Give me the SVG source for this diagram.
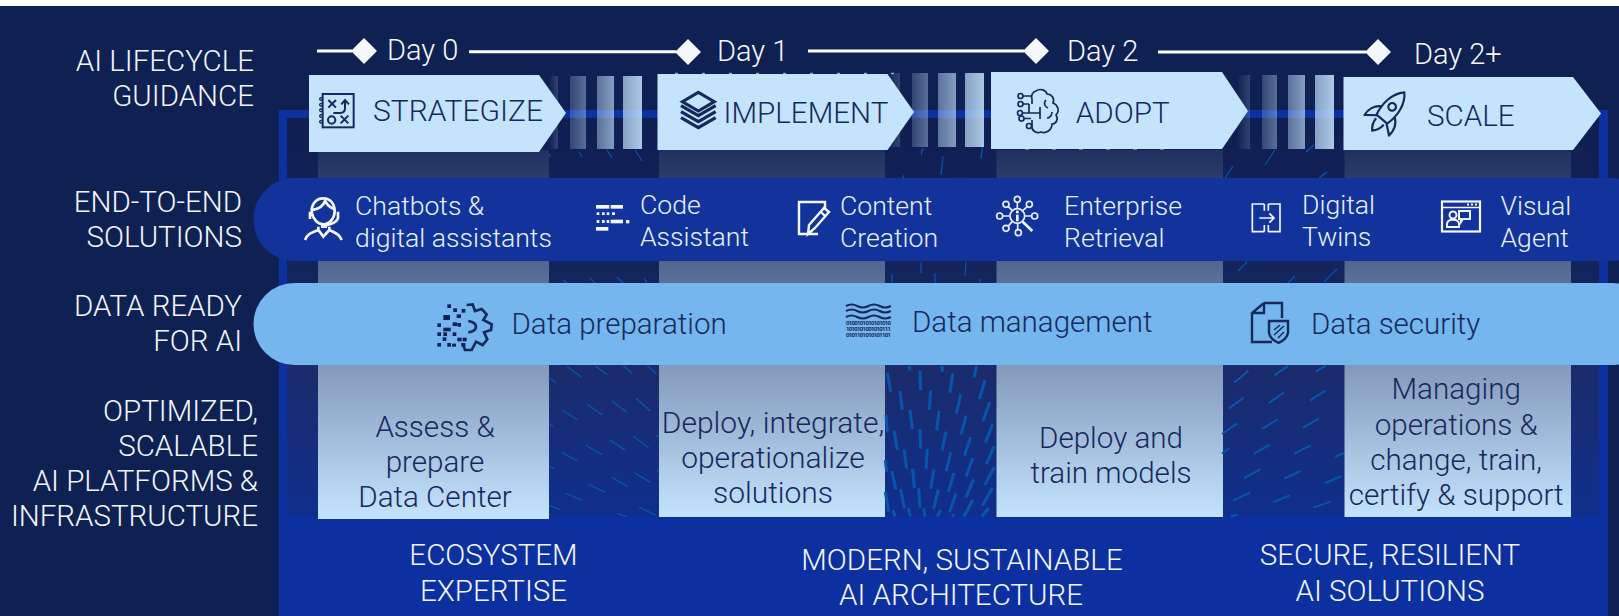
<svg xmlns="http://www.w3.org/2000/svg" width="1619" height="616" viewBox="0 0 1619 616">
<style>
text{font-family:Roboto,"Liberation Sans",sans-serif;font-weight:300}
.lab{font-size:29.5px;fill:#f2f6fc;text-anchor:end}
.chev{fill:#c4e4fe}
.ct{font-size:29.600px;fill:#16295c}
.day{font-size:29px;fill:#f6f8fc}
.sol{font-size:26.600px;fill:#e8eff9}
.dat{font-size:29.500px;fill:#16295c}
.col{fill:url(#colg)}
.ctr{font-size:29.600px;fill:#16295c;text-anchor:middle}
.bot{font-size:29.500px;fill:#f2f6fc;text-anchor:middle}
.dash{fill:none;stroke:#0a55ac;stroke-width:4;stroke-linecap:butt}
.il{fill:none;stroke:#f4f7fc;stroke-width:8}
.dl{fill:none;stroke:#16295c;stroke-width:6}
.wf{fill:#f4f7fc}
.df{fill:#0f2052}
.tl{fill:none;stroke:#fff;stroke-width:3}
</style>
<defs>
<linearGradient id="inner" gradientUnits="userSpaceOnUse" x1="0" y1="118" x2="0" y2="517"><stop offset="0" stop-color="#0f1f52"/><stop offset=".4" stop-color="#14245c"/><stop offset=".62" stop-color="#1b2b6b"/><stop offset="1" stop-color="#0f2f8c"/></linearGradient>
<linearGradient id="colg" gradientUnits="userSpaceOnUse" x1="0" y1="150" x2="0" y2="519"><stop offset="0" stop-color="#1f305f"/><stop offset=".325" stop-color="#556a92"/><stop offset=".583" stop-color="#8399bb"/><stop offset="1" stop-color="#c4e4fe"/></linearGradient>
<linearGradient id="s1"><stop offset="0" stop-color="#c4e4fe" stop-opacity="0"/><stop offset="1" stop-color="#c4e4fe" stop-opacity=".18"/></linearGradient>
<linearGradient id="s2"><stop offset="0" stop-color="#c4e4fe" stop-opacity=".2"/><stop offset="1" stop-color="#c4e4fe" stop-opacity=".4"/></linearGradient>
<linearGradient id="s3"><stop offset="0" stop-color="#c4e4fe" stop-opacity=".42"/><stop offset="1" stop-color="#c4e4fe" stop-opacity=".64"/></linearGradient>
<linearGradient id="s4"><stop offset="0" stop-color="#c4e4fe" stop-opacity=".66"/><stop offset="1" stop-color="#c4e4fe" stop-opacity=".86"/></linearGradient>
</defs>
<rect width="1619" height="616" fill="#0f2052"/>
<rect width="1619" height="6" fill="#fff"/>
<g id="frame">
<rect x="279" y="110" width="1329" height="506" fill="#0d30a0"/>
<rect x="287" y="118" width="1312" height="399" fill="url(#inner)"/>
</g>
<g id="columns">
<rect class="col" x="318" y="150" width="231" height="369"/>
<rect class="col" x="659" y="150" width="226" height="367"/>
<rect class="col" x="996.500" y="150" width="226.500" height="367"/>
<rect class="col" x="1344.500" y="150" width="226.500" height="367"/>
</g>
<g id="pattern">
<g transform="translate(540 360) scale(.33333)"><path class="dash" d="M82 20L125 52M165 17L202 44M250 17L277 40M322 17L350 41M27 52L48 69M67 150L113 180M142 133L187 165M215 122L260 157M288 115L332 154M27 192L39 200M65 277L113 303M137 255L185 284M208 239L256 271M280 229L326 263M27 318L44 327M75 399L127 421M145 373L196 397M215 352L264 380M283 338L331 367M27 436L59 449M231 461L262 470M297 441L347 466M349 225L357 231M350 328L357 338"/></g>
<g transform="translate(880 360) scale(.33333)"><path class="dash" style="stroke-width:9" d="M88 17L90 32M186 17L187 35M290 17L282 52M22 38L32 95M120 32L122 90M218 40L210 98M315 60L298 117M60 93L67 150M152 92L148 150M242 103L229 160M329 127L309 183M90 150L97 207M177 153L170 211M258 167L243 224M338 193L316 248M18 165L22 215M42 212L52 270M120 208L122 266M198 215L186 272M272 231L253 287M343 258L319 312M72 268L80 326M142 267L138 326M213 277L198 333M278 295L258 350M343 322L314 375M35 333L48 389M98 326L103 384M162 328L152 386M222 339L205 395M281 358L257 413M337 384L307 437M62 387L73 445M116 385L120 443M175 389L161 446M228 401L208 457M278 420L252 470M326 445L305 470M16 396L26 455M38 451L46 470M85 445L91 470M131 445L135 470M182 450L172 470M222 462L218 470M16 300L20 335"/></g>
<g transform="translate(1215 360) scale(.33333)"><path class="dash" style="stroke-width:6" d="M57 68L100 32M178 46L220 17M302 35L332 17M41 146L86 113M162 129L207 97M285 121L332 92M21 222L67 190M141 207L188 178M264 203L311 176M21 280L44 264M116 282L164 254M238 281L287 256M361 291L386 279M87 354L137 328M207 356L257 333M330 369L380 348M54 422L104 398M173 428L224 406M295 443L347 425M47 470L69 463"/></g>
<path class="dash" style="stroke-width:1.200" d="M549 154L551 157M579 152L582 157M607 150L612 158M635 150L642 161M563 280L567 283M590 278L595 283M617 277L623 283M644 278L647 283M923 148L921 155M943 156L941 175M983 142L981 159M904 175L903 178M960 177L960 178M921 262L921 273M966 262L965 276M892 274L892 283M935 273L935 283M980 279L980 283"/>
<path class="dash" style="stroke-width:1.200" d="M1225 178L1233 166M1265 165L1275 150M1319 178L1327 172M1306 152L1314 145M1238 271L1247 262M1288 283L1295 276M1324 282L1337 269"/>
</g>
<g id="connectors">
<path class="tl" d="M317 51H352M469 51.700H676M808 51H1024M1158 52H1366"/>
</g>
<g id="day0"><polygon class="wf" points="364,38 377,51 364,64 351,51"/><text class="day" x="387" y="60">Day 0</text></g>
<g id="day1"><polygon class="wf" points="688,39 701,52 688,65 675,52"/><text class="day" x="717" y="61">Day 1</text></g>
<g id="day2"><polygon class="wf" points="1036,38 1049,51 1036,64 1023,51"/><text class="day" x="1067" y="61">Day 2</text></g>
<g id="day2plus"><polygon class="wf" points="1378,39 1391,52 1378,65 1365,52"/><text class="day" x="1414" y="64">Day 2+</text></g>
<g id="stripes">
<g><rect x="549" y="76" width="9" height="73" fill="url(#s1)"/><rect x="570" y="76" width="16" height="73" fill="url(#s2)"/><rect x="597" y="76" width="17" height="73" fill="url(#s3)"/><rect x="623" y="76" width="19" height="73" fill="url(#s4)"/></g>
<g><rect x="887" y="73" width="13" height="74" fill="url(#s1)"/><rect x="912" y="73" width="16" height="74" fill="url(#s2)"/><rect x="938" y="73" width="18" height="74" fill="url(#s3)"/><rect x="965" y="73" width="19" height="74" fill="url(#s4)"/></g>
<g><rect x="1237" y="75" width="13" height="74" fill="url(#s1)"/><rect x="1262" y="75" width="15" height="74" fill="url(#s2)"/><rect x="1288" y="75" width="17" height="74" fill="url(#s3)"/><rect x="1315" y="75" width="19" height="74" fill="url(#s4)"/></g>
</g>
<g id="strategize">
<polygon class="chev" points="309,75 539,75 566,113 539,152 309,152"/>
<g transform="translate(300 85) scale(.33333)">
<rect x="68" y="27" width="93" height="100" class="dl"/>
<path class="dl" style="stroke-width:4;fill:#c4e4fe" d="M63 38a4 4 0 1 0 .1 0M63 55a4 4 0 1 0 .1 0M63 72a4 4 0 1 0 .1 0M63 89a4 4 0 1 0 .1 0M63 106a4 4 0 1 0 .1 0"/>
<path class="dl" d="M85 45L108 68M108 45L85 68M122 92L145 115M145 92L122 115M100 84H120Q135 84 135 70V48M124 58L135 45L147 58"/>
<circle cx="95" cy="105" r="11" class="dl"/>
</g>
<text class="ct" style="font-size:30px" x="373" y="120.700">STRATEGIZE</text>
</g>
<g id="implement">
<polygon class="chev" points="657.500,74 887.500,74 914,112 887.500,150 657.500,150"/>
<path d="M675 73.500H905" fill="none" stroke="#c4e4fe" stroke-width="1.500" stroke-dasharray="3 24" opacity=".7"/>
<g transform="translate(670 85) scale(.33333)">
<polygon points="85,22 133,50 85,78 37,50" fill="none" stroke="#16295c" stroke-width="9"/>
<path d="M33 62L85 92L137 62M33 80L85 110L137 80M33 98L85 128L137 98" fill="none" stroke="#16295c" stroke-width="10"/>
</g>
<text class="ct" x="723.500" y="122.700">IMPLEMENT</text>
</g>
<g id="adopt">
<polygon class="chev" points="991,72 1222,72 1248,111 1222,149 991,149"/>
<path d="M1025 149.200H1170" fill="none" stroke="#e6f2fd" stroke-width="1" stroke-dasharray="4 23" opacity=".6"/>
<g fill="none" stroke="#16295c" stroke-width="1.700">
<path d="M1036 91C1040 88 1046 90 1047 94C1052 94 1055 99 1053 103C1058 105 1060 111 1056 115C1059 119 1056 124 1052 124C1052 130 1046 134 1041 132C1037 134 1032 131 1032 127V120M1036 91C1032 92 1031 96 1032 99V104"/>
<path d="M1023 96H1032M1023 104H1029M1022 113H1040M1024 118.500H1031M1029 104V113M1040 107V119M1046 100C1043 103 1045 107 1048 108M1047 118C1050 118 1052 115 1052 112"/>
<circle cx="1020.500" cy="96" r="2.500"/><circle cx="1020.500" cy="104" r="2.500"/><circle cx="1020" cy="113" r="2.500"/><circle cx="1021.500" cy="118.500" r="2.500"/><circle cx="1029" cy="126" r="2.500"/>
</g>
<text class="ct" x="1075.800" y="123">ADOPT</text>
</g>
<g id="scale">
<polygon class="chev" points="1343.500,77 1573,77 1601,113.500 1573,150 1343.500,150"/>
<g transform="translate(1387 113) rotate(40)" fill="none" stroke="#16295c" stroke-width="2.200" stroke-linejoin="round">
<path d="M0 -27C-9 -18 -10 -4 -7 8H7C10 -4 9 -18 0 -27Z"/>
<circle cx="0" cy="-8" r="3.800"/>
<path d="M-8 -2C-15 2 -17 10 -16 16L-6 8M8 -2C15 2 17 10 16 16L6 8M-5 11C-5 17 -2 21 0 23C2 21 5 17 5 11"/>
</g>
<text class="ct" x="1427" y="126">SCALE</text>
</g>
<g id="pill-solutions"><rect x="253.500" y="178" width="1400" height="83" rx="41" ry="41" fill="#12339b"/></g>
<g id="pill-data"><rect x="253.500" y="283" width="1400" height="82" rx="41" ry="41" fill="#74b6ed"/></g>
<g id="sol-chatbots">
<g transform="translate(290 185) scale(.33333)">
<path class="il" d="M100 40C75 40 62 62 66 85C70 105 85 118 100 118C118 118 134 100 134 78C134 55 120 40 100 40ZM68 75C85 72 100 62 105 48C112 60 120 68 132 72M60 80V102M144 80V102M144 100Q138 116 104 122"/>
<path class="il" d="M45 165C52 145 68 142 85 135L100 155L118 135C132 142 148 145 155 165M85 135V125M118 135V125"/>
<rect x="93" y="116" width="18" height="13" class="wf"/>
</g>
<text class="sol" x="355" y="215">Chatbots &amp;</text><text class="sol" x="355" y="246.700">digital assistants</text>
</g>
<g id="sol-code">
<g transform="translate(290 185) scale(.33333)" class="wf">
<rect x="918" y="60" width="40" height="11"/><rect x="962" y="60" width="37" height="11"/>
<rect x="920" y="82" width="8" height="8"/><rect x="936" y="82" width="8" height="8"/><rect x="950" y="82" width="8" height="8"/><rect x="966" y="82" width="9" height="8"/>
<rect x="920" y="105" width="8" height="9"/><rect x="936" y="105" width="8" height="9"/><rect x="950" y="105" width="8" height="9"/><rect x="962" y="104" width="37" height="11"/><rect x="1008" y="105" width="10" height="10"/>
<rect x="918" y="126" width="37" height="11"/>
</g>
<text class="sol" x="640" y="214">Code</text><text class="sol" x="640" y="246">Assistant</text>
</g>
<g id="sol-content">
<path d="M825 209V202H799V234H818" fill="none" stroke="#f4f7fc" stroke-width="2.400"/>
<path d="M829 212L815 228L808 234L809 225L824 208ZM821 212L826 217" fill="#12339b" stroke="#f4f7fc" stroke-width="2.400"/>
<text class="sol" x="840" y="215">Content</text><text class="sol" x="840" y="246.700">Creation</text>
</g>
<g id="sol-enterprise">
<g transform="translate(1000 190) scale(.33333)">
<g fill="none" stroke="#e8eff9" stroke-width="5"><circle cx="52" cy="78" r="22"/><circle cx="52" cy="28" r="9"/><circle cx="88" cy="43" r="9"/><circle cx="104" cy="78" r="9"/><circle cx="18" cy="43" r="9"/><circle cx="-1" cy="78" r="9"/><circle cx="18" cy="115" r="9"/><circle cx="55" cy="128" r="9"/><path d="M52 37V56M82 50L68 62M95 78H74M25 50L37 62M8 78H30M25 108L37 94M53 100V119"/></g>
<path d="M68 95L97 123" stroke="#f4f7fc" stroke-width="8"/>
<rect x="48" y="74" width="8" height="20" class="wf"/><rect x="48" y="62" width="8" height="8" class="wf"/>
</g>
<text class="sol" x="1064" y="215">Enterprise</text><text class="sol" x="1064" y="246.700">Retrieval</text>
</g>
<g id="sol-twins">
<g transform="translate(1000 190) scale(.33333)" fill="none" stroke="#f4f7fc" stroke-width="5">
<path d="M793 42H757V125H793M793 42V62M793 105V125M805 42H840V125H805M805 42V62M805 105V125M778 84H820M808 70L822 84L808 98"/>
</g>
<text class="sol" x="1302" y="214">Digital</text><text class="sol" x="1302" y="246">Twins</text>
</g>
<g id="sol-visual">
<rect x="1442" y="201.500" width="38" height="30" fill="none" stroke="#f4f7fc" stroke-width="2.200"/>
<path d="M1442 207.500H1480" stroke="#f4f7fc" stroke-width="1.500"/>
<path d="M1467 204.500h2M1471 204.500h2M1475 204.500h2" stroke="#f4f7fc" stroke-width="2"/>
<circle cx="1453" cy="215" r="3.500" fill="none" stroke="#f4f7fc" stroke-width="2"/>
<path d="M1447 227V224Q1447 220 1453 219.500Q1459 220 1459 224V227Z" fill="none" stroke="#f4f7fc" stroke-width="2"/>
<path d="M1459 211H1470V219H1463L1461 222V219H1459Z" fill="none" stroke="#f4f7fc" stroke-width="2"/>
<text class="sol" x="1500.500" y="215">Visual</text><text class="sol" x="1500.500" y="246.700">Agent</text>
</g>
<g id="data-prep">
<g transform="translate(420 295) scale(.33333)">
<path class="dl" style="stroke-width:8" d="M140 30L158 28L165 48L185 42L200 58L190 75L215 88L213 105L192 112L202 133L188 150L168 140L155 165L135 165L128 145M145 78Q168 82 168 95Q168 108 145 112"/>
<g class="df"><rect x="82" y="28" width="11" height="11"/><rect x="100" y="40" width="11" height="11"/><rect x="125" y="42" width="11" height="11"/><rect x="70" y="60" width="20" height="15"/><rect x="110" y="58" width="13" height="11"/><rect x="52" y="85" width="11" height="11"/><rect x="98" y="82" width="13" height="11"/><rect x="112" y="84" width="11" height="11"/><rect x="70" y="98" width="22" height="11"/><rect x="52" y="112" width="11" height="11"/><rect x="70" y="112" width="11" height="11"/><rect x="98" y="112" width="11" height="11"/><rect x="68" y="127" width="11" height="11"/><rect x="112" y="128" width="13" height="11"/><rect x="128" y="128" width="12" height="11"/><rect x="52" y="144" width="11" height="11"/><rect x="82" y="144" width="11" height="11"/><rect x="96" y="146" width="12" height="9"/><rect x="124" y="144" width="12" height="11"/></g>
</g>
<text class="dat" x="511.500" y="334">Data preparation</text>
</g>
<g id="data-mgmt">
<path d="M846 306q5.600 -3 11.200 0t11.200 0t11.200 0t11.200 0M846 311q5.600 -3 11.200 0t11.200 0t11.200 0t11.200 0M846 317q5.600 -3 11.200 0t11.200 0t11.200 0t11.200 0" fill="none" stroke="#16295c" stroke-width="2"/>
<g font-size="6" fill="#16295c" style="font-weight:700"><text style="font-weight:700" x="846" y="325" textLength="45">0100101010101010</text><text style="font-weight:700" x="846" y="331" textLength="45">1010101001010111</text><text style="font-weight:700" x="846" y="337" textLength="45">0101101010101101</text></g>
<text class="dat" x="912" y="331.700">Data management</text>
</g>
<g id="data-sec">
<path d="M1264 303H1282V318M1264 303L1252 313V342H1272M1264 303V313H1252" fill="none" stroke="#16295c" stroke-width="2.400"/>
<path d="M1269 321H1288V333Q1287 339 1278.500 343Q1270 339 1269 333Z" fill="#74b6ed" stroke="#16295c" stroke-width="2.400"/>
<path d="M1274 335L1284 326M1274 330L1280 325M1278 338L1284 332" fill="none" stroke="#16295c" stroke-width="1.500"/>
<text class="dat" x="1311" y="334">Data security</text>
</g>
<g id="labels">
<text class="lab" x="254" y="70.700">AI LIFECYCLE</text><text class="lab" x="254" y="105.800">GUIDANCE</text>
<text class="lab" x="242" y="211.700">END-TO-END</text><text class="lab" x="242" y="246.700">SOLUTIONS</text>
<text class="lab" x="242" y="316">DATA READY</text><text class="lab" x="242" y="351.300">FOR AI</text>
<text class="lab" x="258" y="420.700">OPTIMIZED,</text><text class="lab" x="258" y="455.500">SCALABLE</text><text class="lab" x="258" y="490.700">AI PLATFORMS &amp;</text><text class="lab" x="258" y="525.700">INFRASTRUCTURE</text>
</g>
<g id="col-assess"><text class="ctr" x="435" y="436.700">Assess &amp;</text><text class="ctr" x="435" y="471.700">prepare</text><text class="ctr" x="435" y="506.700">Data Center</text></g>
<g id="col-deploy"><text class="ctr" style="font-size:30px" x="773" y="432.700">Deploy, integrate,</text><text class="ctr" style="font-size:30px" x="773" y="467.700">operationalize</text><text class="ctr" style="font-size:30px" x="773" y="502.700">solutions</text></g>
<g id="col-train"><text class="ctr" x="1111" y="447.700">Deploy and</text><text class="ctr" x="1111" y="482.700">train models</text></g>
<g id="col-manage"><text class="ctr" x="1456.200" y="399">Managing</text><text class="ctr" x="1456.200" y="435">operations &amp;</text><text class="ctr" x="1456.200" y="470">change, train,</text><text class="ctr" x="1456.200" y="504.700">certify &amp; support</text></g>
<g id="ecosystem"><text class="bot" x="493.500" y="565">ECOSYSTEM</text><text class="bot" x="493.500" y="601">EXPERTISE</text></g>
<g id="architecture"><text class="bot" x="962" y="570">MODERN, SUSTAINABLE</text><text class="bot" x="961" y="605">AI ARCHITECTURE</text></g>
<g id="secure"><text class="bot" x="1390" y="565">SECURE, RESILIENT</text><text class="bot" x="1390" y="601">AI SOLUTIONS</text></g>
</svg>
